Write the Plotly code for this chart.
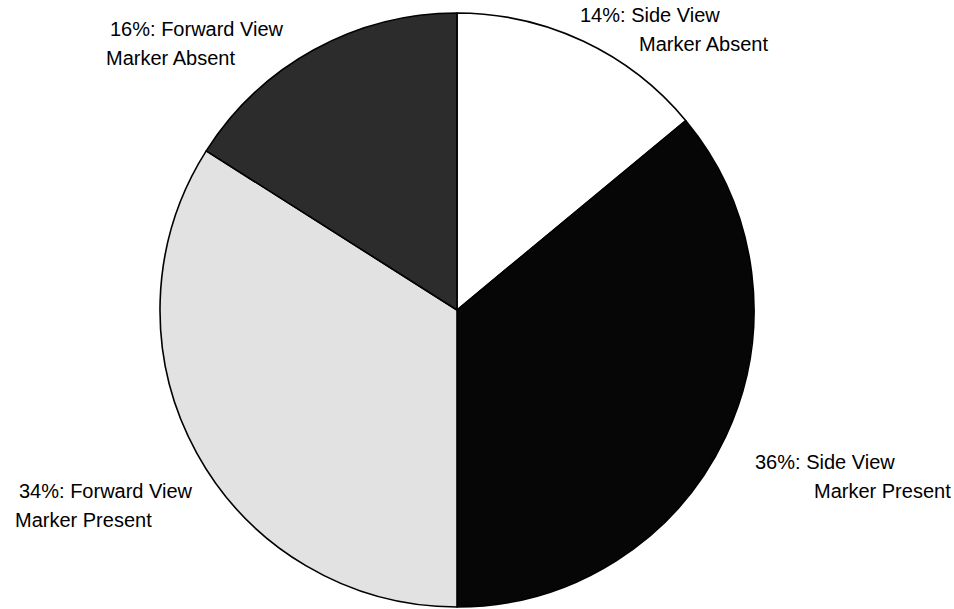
import plotly.graph_objects as go

# Share of trials by viewpoint and marker condition (clockwise from 12 o'clock)
views = ["Side", "Side", "Forward", "Forward"]
states = ["Absent", "Present", "Present", "Absent"]
percents = [14, 36, 34, 16]
fills = ["#ffffff", "#060606", "#e2e2e2", "#2c2c2c"]

W, H = 954, 609

fig = go.Figure(
    go.Pie(
        values=percents,
        labels=[f"{v} View Marker {s}" for v, s in zip(views, states)],
        sort=False,
        direction="clockwise",
        rotation=0,
        textinfo="none",
        hoverinfo="skip",
        showlegend=False,
        marker=dict(colors=fills, line=dict(color="#000000", width=1.6)),
        domain=dict(x=[160 / W, 754 / W], y=[2 / H, 596 / H]),
    )
)

# label placement: (first-line left, first-line y, second-line left, second-line y) in px
label_pos = [
    (578, 15, 637, 44),
    (753, 462, 812, 491),
    (17, 491, 13, 520),
    (108, 29, 104, 58),
]

font = dict(family="Liberation Sans, Arial, Helvetica, sans-serif", size=20, color="#000000")
for p, v, s, (x1, y1, x2, y2) in zip(percents, views, states, label_pos):
    for txt, x, y in ((f"{p}%: {v} View", x1, y1), (f"Marker {s}", x2, y2)):
        fig.add_annotation(
            text=txt, x=x / W, y=1 - y / H, xref="paper", yref="paper",
            xanchor="left", yanchor="middle", showarrow=False, font=font,
        )

fig.update_layout(
    width=W, height=H,
    margin=dict(l=0, r=0, t=0, b=0),
    paper_bgcolor="#ffffff",
    plot_bgcolor="#ffffff",
)

fig.write_html("out.html")
